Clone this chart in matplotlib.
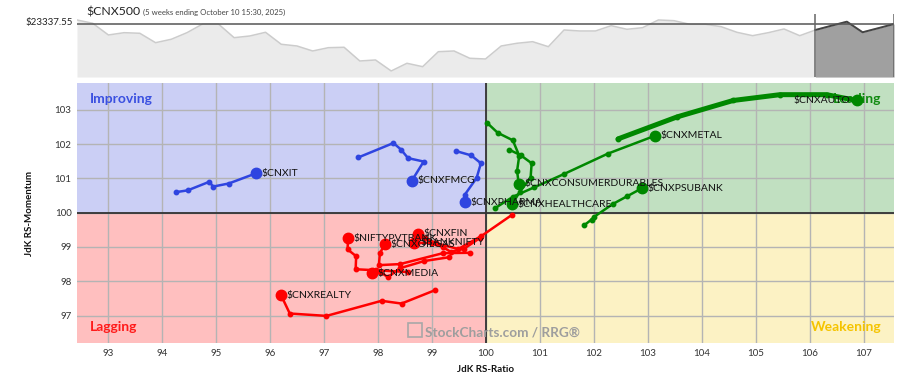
import matplotlib
matplotlib.use('Agg')
import matplotlib.pyplot as plt
from matplotlib.patches import Rectangle
import numpy as np

plt.rcParams['font.family'] = ['Lato', 'DejaVu Sans']

# ---------------- data ----------------
benchmark = "$CNX500"
subtitle = "(5 weeks ending October 10 15:30, 2025)"
price = [23418, 23352, 23118, 23164, 23152, 22964, 23032, 23164, 23338, 23338,
         23064, 23098, 23172, 22932, 22898, 22798, 22864, 22872, 22598, 22618,
         22398, 22552, 22484, 22784, 22798, 22652, 22638, 22898, 22952, 22984,
         22884, 23218, 23198, 23198, 23304, 23232, 23264, 23418, 23404, 23332,
         23332, 23284, 23172, 23104, 23164, 23238, 23104, 23218, 23302, 23384,
         23172, 23254, 23337.55]
last_price = 23337.55
tail_len = 5

series = {
    "$CNXIT":      ([94.27, 94.48, 94.88, 94.95, 95.24, 95.75],
                    [100.60, 100.65, 100.90, 100.76, 100.85, 101.15], "blue"),
    "$CNXFMCG":    ([97.64, 98.29, 98.43, 98.56, 98.85, 98.63],
                    [101.61, 102.03, 101.84, 101.59, 101.49, 100.93], "blue"),
    "$CNXPHARMA":  ([99.44, 99.73, 99.91, 99.83, 99.61, 99.62],
                    [101.80, 101.67, 101.44, 101.01, 100.52, 100.30], "blue"),
    "$CNXCONSUMERDURABLES": ([100.03, 100.22, 100.50, 100.62, 100.58, 100.61],
                    [102.61, 102.33, 102.11, 101.66, 101.22, 100.84], "green"),
    "$CNXHEALTHCARE": ([100.43, 100.65, 100.85, 100.83, 100.63, 100.49],
                    [101.84, 101.67, 101.44, 101.02, 100.61, 100.25], "green"),
    "$CNXMETAL":   ([100.17, 100.51, 100.90, 101.44, 102.26, 103.13],
                    [100.13, 100.47, 100.74, 101.12, 101.72, 102.24], "green"),
    "$CNXPSUBANK": ([101.82, 101.96, 102.00, 102.35, 102.62, 102.89],
                    [99.63, 99.80, 99.87, 100.25, 100.48, 100.71], "green"),
    "$CNXAUTO":    ([102.45, 103.54, 104.58, 105.45, 106.31, 106.87],
                    [102.15, 102.79, 103.27, 103.44, 103.44, 103.27], "green"),
    "$CNXREALTY":  ([99.06, 98.44, 98.07, 97.05, 96.37, 96.21],
                    [97.74, 97.35, 97.43, 96.99, 97.06, 97.59], "red"),
    "$NIFTYPVTBANK": ([98.56, 97.97, 97.59, 97.60, 97.44, 97.45],
                    [98.27, 98.32, 98.35, 98.73, 98.93, 99.25], "red"),
    "$CNXMEDIA":   ([99.32, 98.86, 98.41, 98.19, 98.04, 97.89],
                    [98.70, 98.59, 98.38, 98.12, 98.27, 98.23], "red"),
    "$CNXOILGAS":  ([99.71, 99.21, 98.41, 98.02, 98.04, 98.13],
                    [98.83, 98.82, 98.50, 98.47, 98.82, 99.08], "red"),
    "$BANKNIFTY":  ([99.89, 99.60, 99.35, 99.20, 99.00, 98.68],
                    [99.26, 98.95, 98.86, 99.00, 99.12, 99.12], "red"),
    "$CNXFIN":     ([100.48, 99.92, 99.49, 99.08, 98.87, 98.75],
                    [99.93, 99.32, 98.94, 99.11, 99.26, 99.38], "red"),
}
thick_series = ["$CNXAUTO"]
left_label_series = ["$CNXAUTO"]

x_ticks = list(range(93, 108))
y_ticks = list(range(97, 104))

# ---------------- styles ----------------
colors = {"blue": "#2f45e0", "green": "#008800", "red": "#ff0000"}
quad_fill = {"Improving": "#cbcff5", "Leading": "#c1e0c1",
             "Lagging": "#ffbfbf", "Weakening": "#fcf2c4"}
quad_text = {"Improving": "#3a50e0", "Leading": "#118a11",
             "Lagging": "#ff1a1a", "Weakening": "#f5c400"}

W, H = 904, 376
fig = plt.figure(figsize=(W / 100, H / 100), dpi=100)

# ---------------- mini price chart ----------------
axm = fig.add_axes([77 / W, 1 - 77 / H, 817 / W, 63 / H])
idx = np.arange(len(price))
ylo, yhi = 22277.55, 23537.55
axm.fill_between(idx, price, ylo, color="#ebebeb", lw=0)
axm.plot(idx, price, color="#cccccc", lw=1.1)
ts = len(price) - 1 - tail_len
axm.fill_between(idx[ts:], price[ts:], ylo, color="#a0a0a0", lw=0)
axm.plot(idx[ts:], price[ts:], color="#444444", lw=1.4)
axm.axhline(last_price, color="#555555", lw=1.1)
axm.axvline(ts, color="#666666", lw=1.1)
axm.axvline(len(price) - 1, color="#666666", lw=1.1)
axm.set_xlim(0, len(price) - 1)
axm.set_ylim(ylo, yhi)
axm.axis("off")

fig.text(86 / W, 1 - 12 / H, benchmark, fontsize=8.8, color="#222222",
         ha="left", va="center")
fig.text(143 / W, 1 - 12.5 / H, subtitle, fontsize=5.6, color="#444444",
         ha="left", va="center")
fig.text(73 / W, 1 - 23 / H, "$%.2f" % last_price, fontsize=7, color="#222222",
         ha="right", va="center")

# ---------------- main RRG ----------------
ax = fig.add_axes([77 / W, 1 - 343 / H, 817 / W, 260 / H])
x0, x1 = 92.43, 107.56
y0, y1 = 96.20, 103.78
ax.set_xlim(x0, x1)
ax.set_ylim(y0, y1)
ax.add_patch(Rectangle((x0, 100), 100 - x0, y1 - 100, color=quad_fill["Improving"], zorder=0.2, lw=0))
ax.add_patch(Rectangle((100, 100), x1 - 100, y1 - 100, color=quad_fill["Leading"], zorder=0.2, lw=0))
ax.add_patch(Rectangle((x0, y0), 100 - x0, 100 - y0, color=quad_fill["Lagging"], zorder=0.2, lw=0))
ax.add_patch(Rectangle((100, y0), x1 - 100, 100 - y0, color=quad_fill["Weakening"], zorder=0.2, lw=0))
ax.set_axisbelow(True)
ax.set_xticks(x_ticks)
ax.set_yticks(y_ticks)
ax.grid(True, color="#b4b4b4", lw=1.0)
ax.axvline(100, color="#333333", lw=1.3, zorder=1)
ax.axhline(100, color="#333333", lw=1.3, zorder=1)
for s in ax.spines.values():
    s.set_visible(False)
ax.tick_params(length=0, labelsize=7, labelcolor="#333333", pad=4)

ax.text(0.016, 0.94, "Improving", transform=ax.transAxes, fontsize=10,
        fontweight="bold", color=quad_text["Improving"], ha="left", va="center")
ax.text(0.985, 0.94, "Leading", transform=ax.transAxes, fontsize=10,
        fontweight="bold", color=quad_text["Leading"], ha="right", va="center")
ax.text(0.016, 0.06, "Lagging", transform=ax.transAxes, fontsize=10,
        fontweight="bold", color=quad_text["Lagging"], ha="left", va="center")
ax.text(0.985, 0.06, "Weakening", transform=ax.transAxes, fontsize=10,
        fontweight="bold", color=quad_text["Weakening"], ha="right", va="center")

# watermark
ax.add_patch(Rectangle((408 / 817 - 77 / 817 + 0.0, 0.025), 14 / 817, 14 / 260,
                       transform=ax.transAxes, facecolor="none",
                       edgecolor="#a8a8a8", lw=1.2, zorder=1.5))
ax.text(425 / 817 - 77 / 817 + 0.0, 0.04, "StockCharts.com / RRG\u00ae",
        transform=ax.transAxes, fontsize=9.8, fontweight="bold",
        color="#9e9e9e", ha="left", va="center", zorder=1.5)

for name, (xs, ys, c) in series.items():
    col = colors[c]
    lw = 3.6 if name in thick_series else 1.8
    ax.plot(xs, ys, color=col, lw=lw, marker="o", ms=3.2, zorder=3,
            solid_capstyle="round")
    ax.plot(xs[-1], ys[-1], "o", color=col, ms=7.5, zorder=4)
    if name in left_label_series:
        ax.annotate(name, (xs[-1], ys[-1]), xytext=(-5, 0), textcoords="offset points",
                    ha="right", va="center", fontsize=7.5, color="#111111", zorder=5)
    else:
        ax.annotate(name, (xs[-1], ys[-1]), xytext=(4, 0), textcoords="offset points",
                    ha="left", va="center", fontsize=7.5, color="#111111", zorder=5)

fig.text(486 / W, 1 - 369 / H, "JdK RS-Ratio", fontsize=7, fontweight="bold",
         color="#111111", ha="center", va="center")
fig.text(30 / W, 1 - 213 / H, "JdK RS-Momentum", fontsize=7, fontweight="bold",
         color="#111111", ha="center", va="center", rotation=90)

fig.savefig("out.png", dpi=100)
